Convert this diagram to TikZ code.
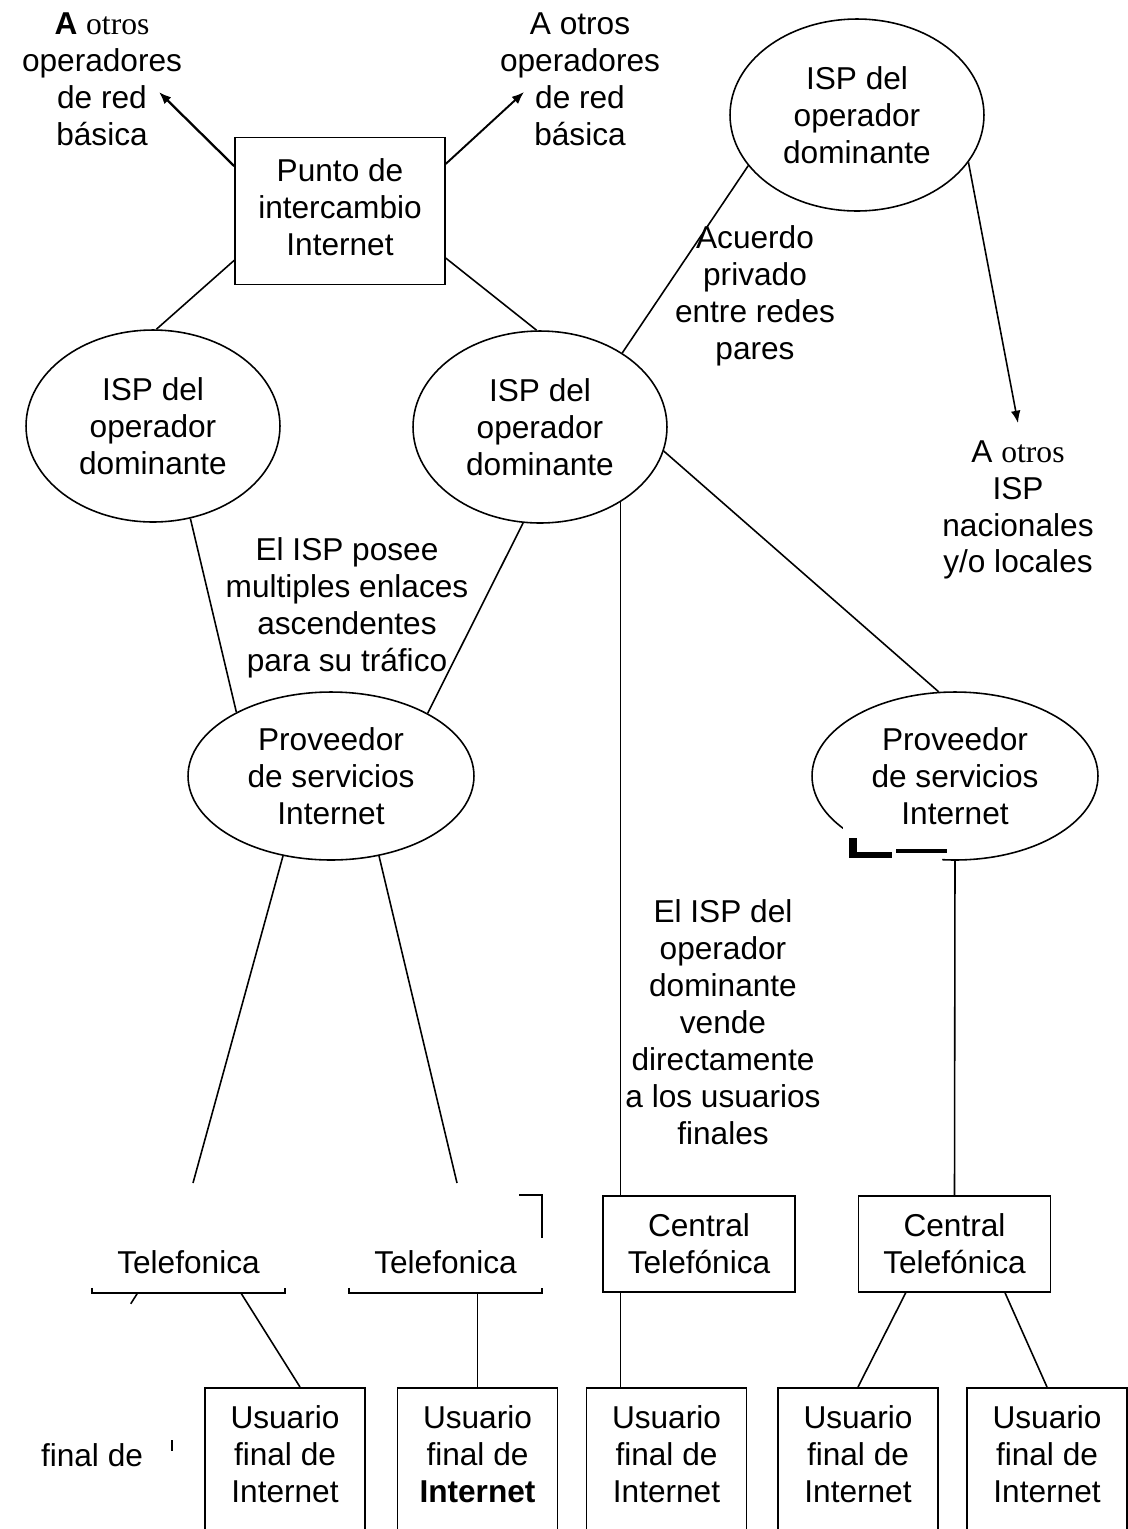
\documentclass[tikz,border=0pt]{standalone}
\usepackage{fontspec}
\setmainfont{Liberation Sans}
\newfontfamily\otrosfont{Liberation Serif}
\usetikzlibrary{arrows.meta,shapes.geometric}

\begin{document}
\begin{tikzpicture}[
  x=0.02cm, y=-0.02cm, >={Latex[length=7pt,width=5.5pt]},
  every node/.style={font=\fontsize{18}{21}\selectfont, align=center},
  box/.style={draw, line width=0.9pt, minimum width=3.84cm, minimum height=1.92cm},
  isp/.style={draw, ellipse, line width=0.9pt, inner sep=0pt,
              minimum width=5.08cm, minimum height=3.84cm},
  prov/.style={draw, ellipse, line width=0.9pt, inner sep=0pt,
               minimum width=5.72cm, minimum height=3.36cm},
  user/.style={draw, line width=0.9pt, anchor=north, minimum width=3.2cm,
               inner ysep=10pt, text height=55pt, text depth=60pt},
  link/.style={line width=0.9pt},
  note/.style={inner sep=0pt}
]
  \useasboundingbox (0,0) rectangle (1128,1529);

  % central point and ISPs
  \node[box, minimum width=4.2cm, minimum height=2.94cm, text depth=4.6pt] (punto)
    at (340,211) {Punto de\\intercambio\\Internet};
  \node[isp] (ispT) at (857,115) {ISP del\\operador\\dominante};
  \node[isp] (ispL) at (153,426) {ISP del\\operador\\dominante};
  \node[isp] (ispM) at (540,427) {ISP del\\operador\\dominante};
  \node[prov] (provL) at (331,776) {Proveedor\\de servicios\\Internet};
  \node[prov] (provR) at (955,776) {Proveedor\\de servicios\\Internet};

  % exchanges
  \node[box, draw=none] (telL) at (188.5,1244) {\phantom{Central}\\Telefonica};
  \node[box, draw=none] (telR) at (445.5,1244) {\phantom{Central}\\Telefonica};
  \node[box] (cen1) at (699,1244) {Central\\Telefónica};
  \node[box] (cen2) at (954.5,1244) {Central\\Telefónica};

  % end users
  \node[user] (us1) at (285,1387) {Usuario\\final de\\Internet};
  \node[user] (us2) at (477.5,1387) {Usuario\\final de\\\textbf{Internet}};
  \node[user] (us3) at (666.5,1387) {Usuario\\final de\\Internet};
  \node[user] (us4) at (858,1387) {Usuario\\final de\\Internet};
  \node[user] (us5) at (1047,1387) {Usuario\\final de\\Internet};

  % notes
  \node[note] (redL) at (102,79) {\textbf{A} {\otrosfont otros}\\operadores\\de red\\básica};
  \node[note] (redR) at (580,79) {A otros\\operadores\\de red\\básica};
  \node[note] (acuerdo) at (755,296) {Acuerdo\\privado\\entre redes\\pares};
  \node[note] (otrosisp) at (1018,510) {A {\otrosfont otros}\\ISP\\nacionales\\y/o locales};
  \node[note] (posee) at (347,608)
    {El ISP posee\\multiples enlaces\\ascendentes\\para su tráfico};
  \node[note] (vende) at (723,1022)
    {El ISP del\\operador\\dominante\\vende\\directamente\\a los usuarios\\finales};
  \node[note] (finalde) at (92,1455) {final de};

  \coordinate (tipL) at (159,92);
  \coordinate (tipR) at (524,92);
  \coordinate (tipI) at (1018,423);
  \coordinate (endL) at (193,1183);
  \coordinate (endR) at (457,1183);

  % connectors
  \draw[->, line width=1.3pt] (punto.157.5) -- (tipL);
  \draw[->, line width=1.1pt] (punto.24.8) -- (tipR);
  \draw[link] (punto.-155.2) -- (ispL.88);
  \draw[link] (punto.-24.8) -- (ispM.92);
  \draw[link] (ispT.-155.9) -- (ispM.42.8);
  \draw[link, ->] (ispT.-23) -- (tipI);
  \draw[link] (ispL.-68) -- (provL.146.3);
  \draw[link] (ispM.-100.1) -- (provL.33.4);
  \draw[link] (ispM.-11.5) -- (provR.101.5);
  \draw[link] (ispM.-43.5) -- (ispM.-43.5 |- cen1.north);
  \draw[link] (ispM.-43.5 |- cen1.south) -- (ispM.-43.5 |- us3.north);
  \draw[link] (provL.-121.2) -- (endL);
  \draw[link] (provL.-59) -- (endR);
  \draw[link] (provR.south) -- (cen2.north);
  \draw[link] (cen2.-135.3) -- (us4.north);
  \draw[link] (cen2.-44.1) -- (us5.north);
  \draw[link] (telL.-43.5) -- ([xshift=0.3cm]us1.north);
  \draw[link] (us2.north |- telR.south) -- (us2.north);

  % what is left of the two faded boxes
  \draw[link] (telL.south west) ++(0,-5) -- ++(0,5) -- (telL.south east) -- ++(0,-5);
  \draw[link] (telL.south west) ++(46,0) -- ++(-7,11);
  \draw[link] (telR.south west) ++(0,-5) -- ++(0,5) -- (telR.south east) -- ++(0,-5);
  \draw[link] (telR.north east) ++(-23,0) -- ++(23,0) -- ++(0,43);
  \draw[line width=0.6pt] (172,1440) -- (172,1451);

  % broken outline under the right provider
  \begin{scope}
    \clip (843,825) rectangle (942,870);
    \draw[white, line width=3pt] (provR.center) ellipse [x radius=2.86cm, y radius=1.68cm];
  \end{scope}
  \fill (849,838) rectangle (857,858);
  \fill (849,852) rectangle (892,858);
  \fill (896,849) rectangle (947,853);
\end{tikzpicture}
\end{document}
